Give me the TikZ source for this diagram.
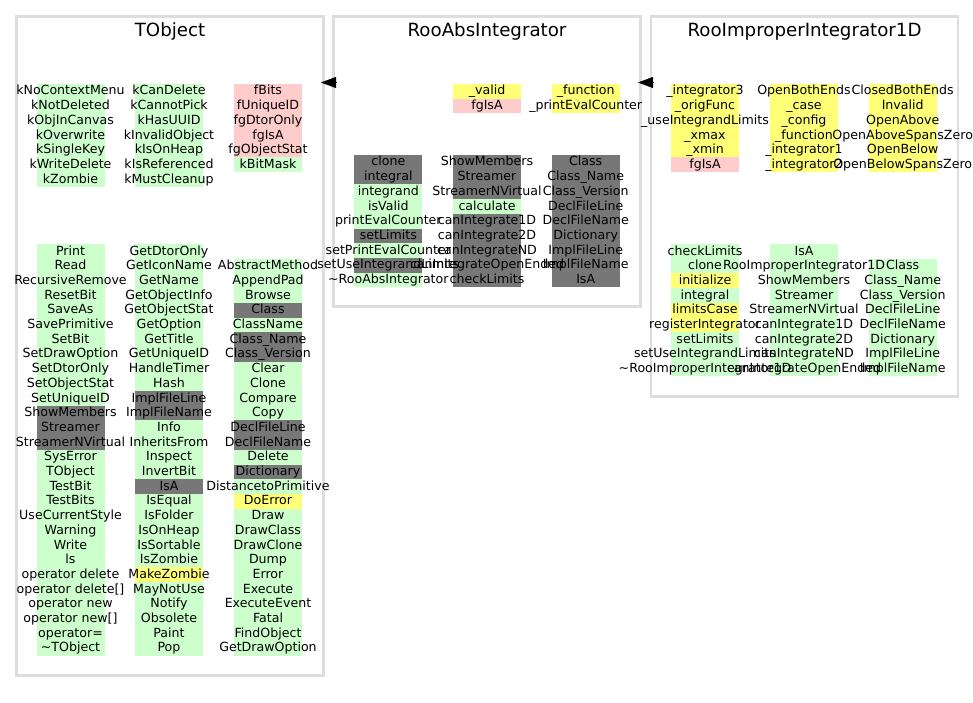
\documentclass[tikz,border=0pt]{standalone}
\usepackage{fontspec}
\setmainfont{DejaVu Sans}
\usetikzlibrary{arrows.meta}

\definecolor{pu}{RGB}{204,255,204}
\definecolor{pt}{RGB}{255,255,119}
\definecolor{pr}{RGB}{255,204,204}
\definecolor{ov}{RGB}{119,119,119}
\definecolor{frame}{RGB}{221,221,221}

\pgfdeclarelayer{bars}
\pgfsetlayers{bars,main}

% one column of members: name, x, top y, list of text/colour
\newcommand{\members}[4]{%
  \foreach \txt/\clr [count=\i] in {#4} {
    \begin{pgfonlayer}{bars}
      \fill[\clr] (#2-34,#3+\i*14.7-14.7) rectangle ++(68,14.7);
    \end{pgfonlayer}
    \node[memb] (#1-\i) at (#2,#3+\i*14.7-7.35) {\makebox[68pt]{\txt}};
  }}

\tikzset{
  cls/.style={draw=frame, line width=2.5pt, inner sep=0pt, outer sep=0pt,
    minimum width=307pt, anchor=north west},
  clstitle/.style={anchor=base, inner sep=0pt, font=\fontsize{18.2}{20}\selectfont},
  memb/.style={inner sep=0pt, text height=11pt, text depth=3.7pt,
    font=\fontsize{12.6}{14.7}\selectfont},
  inh/.style={line width=0.4pt, -{Triangle[length=15pt,width=11pt]}}
}

\begin{document}
\begin{tikzpicture}[x=1pt,y=-1pt]
\begin{pgfonlayer}{bars}
  \path[fill=white, use as bounding box] (0,0) rectangle (973,703);
\end{pgfonlayer}

\node[cls, minimum height=659pt] (tobj) at (16.5,16.5) {};
\node[cls, minimum height=290pt] (rai) at (333.5,16.5) {};
\node[cls, minimum height=380pt] (rii) at (651,16.5) {};

\node[clstitle] (tobj-t) at (tobj.north |- 0,36.7) {TObject};
\node[clstitle] (rai-t) at (rai.north |- 0,36.7) {RooAbsIntegrator};
\node[clstitle] (rii-t) at (rii.north |- 0,36.7) {RooImproperIntegrator1D};

% TObject
\members{tobj-a}{70.5}{84}{kNoContextMenu/pu, kNotDeleted/pu, kObjInCanvas/pu,
  kOverwrite/pu, kSingleKey/pu, kWriteDelete/pu, kZombie/pu}
\members{tobj-b}{169}{84}{kCanDelete/pu, kCannotPick/pu, kHasUUID/pu,
  kInvalidObject/pu, kIsOnHeap/pu, kIsReferenced/pu, kMustCleanup/pu}
\members{tobj-c}{268}{84}{fBits/pr, fUniqueID/pr, fgDtorOnly/pr, fgIsA/pr,
  fgObjectStat/pr, kBitMask/pu}
\members{tobj-d}{70.5}{244}{Print/pu, Read/pu, RecursiveRemove/pu, ResetBit/pu,
  SaveAs/pu, SavePrimitive/pu, SetBit/pu, SetDrawOption/pu, SetDtorOnly/pu,
  SetObjectStat/pu, SetUniqueID/pu, ShowMembers/ov, Streamer/ov,
  StreamerNVirtual/ov, SysError/pu, TObject/pu, TestBit/pu, TestBits/pu,
  UseCurrentStyle/pu, Warning/pu, Write/pu, ls/pu, operator delete/pu,
  operator delete[]/pu, operator new/pu, operator new[]/pu, operator=/pu,
  \textasciitilde TObject/pu}
\members{tobj-e}{169}{244}{GetDtorOnly/pu, GetIconName/pu, GetName/pu,
  GetObjectInfo/pu, GetObjectStat/pu, GetOption/pu, GetTitle/pu,
  GetUniqueID/pu, HandleTimer/pu, Hash/pu, ImplFileLine/ov, ImplFileName/ov,
  Info/pu, InheritsFrom/pu, Inspect/pu, InvertBit/pu, IsA/ov, IsEqual/pu,
  IsFolder/pu, IsOnHeap/pu, IsSortable/pu, IsZombie/pu, MakeZombie/pt,
  MayNotUse/pu, Notify/pu, Obsolete/pu, Paint/pu, Pop/pu}
\members{tobj-f}{268}{258.7}{AbstractMethod/pu, AppendPad/pu, Browse/pu,
  Class/ov, ClassName/pu, Class\_Name/ov, Class\_Version/ov, Clear/pu,
  Clone/pu, Compare/pu, Copy/pu, DeclFileLine/ov, DeclFileName/ov, Delete/pu,
  Dictionary/ov, DistancetoPrimitive/pu, DoError/pt, Draw/pu, DrawClass/pu,
  DrawClone/pu, Dump/pu, Error/pu, Execute/pu, ExecuteEvent/pu, Fatal/pu,
  FindObject/pu, GetDrawOption/pu}

% RooAbsIntegrator
\members{rai-b}{487}{84}{\_valid/pt, fgIsA/pr}
\members{rai-c}{585.7}{84}{\_function/pt, \_printEvalCounter/pt}
\members{rai-d}{388.3}{155}{clone/ov, integral/ov, integrand/pu, isValid/pu,
  printEvalCounter/pu, setLimits/ov, setPrintEvalCounter/pu,
  setUseIntegrandLimits/ov, \textasciitilde RooAbsIntegrator/pu}
\members{rai-e}{487}{155}{ShowMembers/ov, Streamer/ov, StreamerNVirtual/ov,
  calculate/pu, canIntegrate1D/ov, canIntegrate2D/ov, canIntegrateND/ov,
  canIntegrateOpenEnded/ov, checkLimits/ov}
\members{rai-f}{585.7}{155}{Class/ov, Class\_Name/ov, Class\_Version/ov,
  DeclFileLine/ov, DeclFileName/ov, Dictionary/ov, ImplFileLine/ov,
  ImplFileName/ov, IsA/ov}

% RooImproperIntegrator1D
\members{rii-a}{705}{84}{\_integrator3/pt, \_origFunc/pt,
  \_useIntegrandLimits/pt, \_xmax/pt, \_xmin/pt, fgIsA/pr}
\members{rii-b}{804}{84}{OpenBothEnds/pt, \_case/pt, \_config/pt,
  \_function/pt, \_integrator1/pt, \_integrator2/pt}
\members{rii-c}{902.7}{84}{ClosedBothEnds/pt, Invalid/pt, OpenAbove/pt,
  OpenAboveSpansZero/pt, OpenBelow/pt, OpenBelowSpansZero/pt}
\members{rii-d}{705}{244}{checkLimits/pu, clone/pu, initialize/pt,
  integral/pu, limitsCase/pt, registerIntegrator/pt, setLimits/pu,
  setUseIntegrandLimits/pu, \textasciitilde RooImproperIntegrator1D/pu}
\members{rii-e}{804}{244}{IsA/pu, RooImproperIntegrator1D/pu, ShowMembers/pu,
  Streamer/pu, StreamerNVirtual/pu, canIntegrate1D/pu, canIntegrate2D/pu,
  canIntegrateND/pu, canIntegrateOpenEnded/pu}
\members{rii-f}{902.7}{258.7}{Class/pu, Class\_Name/pu, Class\_Version/pu,
  DeclFileLine/pu, DeclFileName/pu, Dictionary/pu, ImplFileLine/pu,
  ImplFileName/pu}

% inheritance
\draw[inh] ([xshift=2.5pt]rai.west |- 0,82.5) -- ([xshift=-2.5pt]tobj.east |- 0,82.5);
\draw[inh] ([xshift=2.5pt]rii.west |- 0,82.5) -- ([xshift=-2.5pt]rai.east |- 0,82.5);
\end{tikzpicture}
\end{document}
